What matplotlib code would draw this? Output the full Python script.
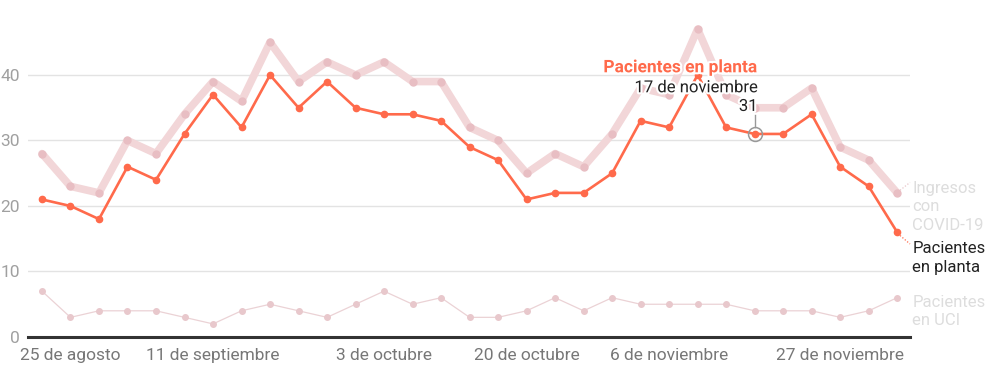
import numpy as np
import matplotlib.pyplot as plt
import matplotlib.patheffects as pe

plt.rcParams['font.family'] = ['Roboto', 'DejaVu Sans']

# ------------------ DATOS ------------------
planta = [21, 20, 18, 26, 24, 31, 37, 32, 40, 35, 39, 35, 34, 34, 33, 29,
          27, 21, 22, 22, 25, 33, 32, 40, 32, 31, 31, 34, 26, 23, 16]
ingresos = [28, 23, 22, 30, 28, 34, 39, 36, 45, 39, 42, 40, 42, 39, 39, 32,
            30, 25, 28, 26, 31, 38, 37, 47, 37, 35, 35, 38, 29, 27, 22]
uci = [7, 3, 4, 4, 4, 3, 2, 4, 5, 4, 3, 5, 7, 5, 6, 3,
       3, 4, 6, 4, 6, 5, 5, 5, 5, 4, 4, 4, 3, 4, 6]
pos_fechas = [1, 6, 12, 17, 22, 28]
etiquetas_fechas = ["25 de agosto", "11 de septiembre", "3 de octubre",
                    "20 de octubre", "6 de noviembre", "27 de noviembre"]
idx_destacado = 25
fecha_destacada = "17 de noviembre"
# -------------------------------------------

ROJO = "#FF6A4B"
ROSA = "#F2D6D8"
ROSA_MARCA = "#E8BEC3"
x = np.arange(len(planta))

fig = plt.figure(figsize=(10.01, 3.84), dpi=100)
ax = fig.add_axes([28 / 1001, 47 / 384, 882 / 1001, 337 / 384])

ax.plot(x, ingresos, color=ROSA, lw=5.5, solid_joinstyle="round",
        solid_capstyle="round", zorder=2)
ax.plot(x, ingresos, "o", color=ROSA_MARCA, ms=5, zorder=2.1)
ax.plot(x, uci, color="#EBD2D5", lw=0.9, zorder=2)
ax.plot(x, uci, "o", color="#E8C8CC", ms=4, zorder=2.1)
ax.plot(x, planta, color=ROJO, lw=1.9, marker="o", ms=4.5, zorder=3)

ax.set_xlim(-0.49, 30.45)
ax.set_ylim(0, 51.45)
ax.set_yticks([0, 10, 20, 30, 40])
ax.set_xticks(pos_fechas)
ax.set_xticklabels(etiquetas_fechas)
ax.grid(axis="y", color="#E3E3E3", lw=1)
ax.set_axisbelow(True)
for s in ax.spines.values():
    s.set_visible(False)
ax.axhline(0, color="#333333", lw=2.2, zorder=4, clip_on=False)
ax.tick_params(axis="y", length=0, pad=6, labelsize=12.5, labelcolor="#A0A0A0")
ax.tick_params(axis="x", length=0, pad=8, labelsize=12.5, labelcolor="#777777")

# anotacion del punto destacado
yd = planta[idx_destacado]
ax.plot(idx_destacado, yd, "o", ms=10, mfc="none", mec="#999999", mew=1.1, zorder=5)
ax.plot([idx_destacado, idx_destacado], [yd + 1.1, yd + 2.9], color="#999999", lw=1, zorder=5)
halo = [pe.withStroke(linewidth=3, foreground="white")]
xt = idx_destacado + 0.1
ax.text(xt, yd + 4.2, str(yd), ha="right", va="center", fontsize=12,
        color="#222222", path_effects=halo, zorder=6)
ax.text(xt, yd + 7.05, fecha_destacada, ha="right", va="center", fontsize=12,
        color="#222222", path_effects=halo, zorder=6)
ax.text(xt, yd + 10.1, "Pacientes en planta", ha="right", va="center", fontsize=12.5,
        fontweight="bold", color=ROJO, path_effects=halo, zorder=6)

# etiquetas a la derecha
xl = 30.53
ax.text(xl, 19.85, "Ingresos\ncon\nCOVID-19", ha="left", va="center", fontsize=12,
        color="#DDDDDD", linespacing=1.3, clip_on=False)
ax.text(xl, 12.1, "Pacientes\nen planta", ha="left", va="center", fontsize=12,
        color="#222222", linespacing=1.3, clip_on=False)
ax.text(xl, 3.9, "Pacientes\nen UCI", ha="left", va="center", fontsize=12,
        color="#DDDDDD", linespacing=1.3, clip_on=False)
ax.plot([30.1, 30.45], [ingresos[-1] + 0.4, ingresos[-1] + 1.6], ls=(0, (1, 1.5)),
        color="#E8C4C8", lw=0.9, clip_on=False)
ax.plot([30.1, 30.45], [planta[-1] - 0.5, planta[-1] - 1.8], ls=(0, (1, 1.5)),
        color=ROJO, lw=0.9, clip_on=False)

fig.savefig("out.png", dpi=100)
